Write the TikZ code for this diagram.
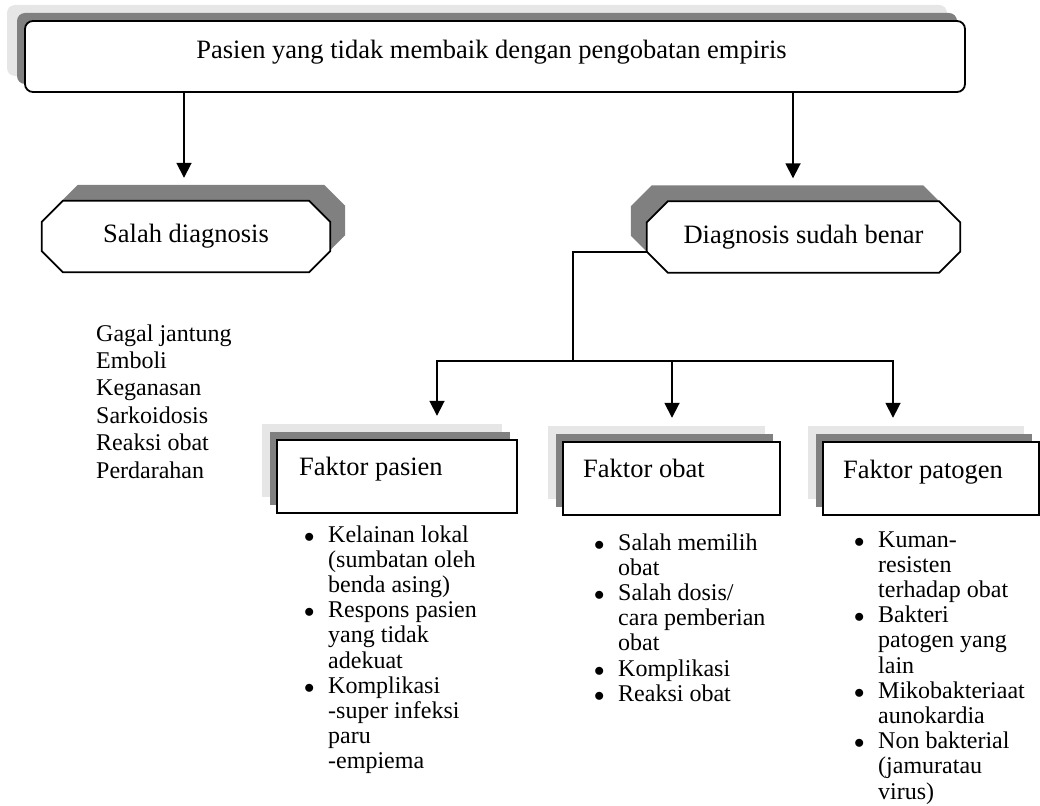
\documentclass[tikz,border=0pt]{standalone}
\usepackage{fontspec}
\setmainfont{Liberation Serif}
\usetikzlibrary{arrows.meta}
\definecolor{dgray}{HTML}{808080}
\definecolor{lgray}{HTML}{E6E6E6}
\newcommand\octo[2]{([xshift=#2]#1.north west) -- ([xshift=-#2]#1.north east) -- ([yshift=-#2]#1.north east) -- ([yshift=#2]#1.south east) -- ([xshift=-#2]#1.south east) -- ([xshift=#2]#1.south west) -- ([yshift=#2]#1.south west) -- ([yshift=-#2]#1.north west) -- cycle}
\newcommand\bul{\makebox[24pt][l]{\fontsize{20}{25.2}\selectfont$\bullet$}}
\tikzset{
  lbl/.style={font=\fontsize{26.5}{30}\selectfont, inner sep=0pt},
  lst/.style={font=\fontsize{24}{25.2}\selectfont, inner sep=0pt, anchor=base west},
  arr/.style={line width=1.8pt, line cap=rect, -{Triangle[length=15pt,width=15pt]}},
  ln/.style={line width=1.8pt, line cap=rect},
  bx/.style={draw=black, fill=white, line width=1.8pt, inner sep=0pt},
  sh/.style={inner sep=0pt},
  fbox/.style={minimum width=#1, minimum height=73pt},
  topbox/.style={rounded corners=8pt, minimum width=940pt, minimum height=71pt},
  octbox/.style={inner sep=0pt, minimum width=#1, minimum height=71pt},
}
\begin{document}
\begin{tikzpicture}[x=1pt,y=-1pt]
\useasboundingbox (0,0) rectangle (1040,805);
% top box
\node[sh, fill=lgray, topbox] (toplt) at (477,40.5) {};
\node[sh, fill=dgray, topbox] (topdk) at (487,48.5) {};
\node[bx, topbox] (top) at (495,56.5) {};
\node[lbl, anchor=base] (topt) at (491.5,59) {Pasien yang tidak membaik dengan pengobatan empiris};
% octagons
\node[octbox=288pt] (sdsh) at (201,220.5) {};
\node[octbox=288pt] (sd) at (186,236.5) {};
\fill[dgray] \octo{sdsh}{21pt};
\filldraw[fill=white, line width=1.8pt] \octo{sd}{21pt};
\node[lbl] (sdt) at (sd) {Salah diagnosis};
\node[octbox=313pt] (dbsh) at (787.5,221) {};
\node[octbox=313pt] (db) at (803.5,237) {};
\fill[dgray] \octo{dbsh}{21pt};
\filldraw[fill=white, line width=1.8pt] \octo{db}{21pt};
\node[lbl] (dbt) at (db) {Diagnosis sudah benar};
% factor boxes
\node[sh, fill=lgray, fbox=240pt] (fpl) at (382,460.5) {};
\node[sh, fill=dgray, fbox=240pt] (fpd) at (390,468.5) {};
\node[bx, fbox=240pt] (fp) at (397,476.5) {};
\node[lbl, anchor=base west] (fpt) at (299,475) {Faktor pasien};
\node[sh, fill=lgray, fbox=217pt] (fol) at (656.5,462.5) {};
\node[sh, fill=dgray, fbox=217pt] (fod) at (664.5,470.5) {};
\node[bx, fbox=217pt] (fo) at (671.5,478.5) {};
\node[lbl, anchor=base west] (fot) at (583,477) {Faktor obat};
\node[sh, fill=lgray, fbox=216pt] (fgl) at (916,462.5) {};
\node[sh, fill=dgray, fbox=216pt] (fgd) at (924,470.5) {};
\node[bx, fbox=216pt] (fg) at (931,478.5) {};
\node[lbl, anchor=base west] (fgt) at (843,478) {Faktor patogen};
% lists
\node[lst, font=\fontsize{24}{27.4}\selectfont] (lsd) at (96,341) {\begin{tabular}[t]{@{}l@{}}Gagal jantung\\Emboli\\Keganasan\\Sarkoidosis\\Reaksi obat\\Perdarahan\end{tabular}};
\node[lst] (lfp) at (304,542) {\begin{tabular}[t]{@{}l@{}l@{}}\bul & Kelainan lokal\\ & (sumbatan oleh\\ & benda asing)\\\bul & Respons pasien\\ & yang tidak\\ & adekuat\\\bul & Komplikasi\\ & -super infeksi\\ & paru\\ & -empiema\end{tabular}};
\node[lst] (lfo) at (594,550) {\begin{tabular}[t]{@{}l@{}l@{}}\bul & Salah memilih\\ & obat\\\bul & Salah dosis/\\ & cara pemberian\\ & obat\\\bul & Komplikasi\\\bul & Reaksi obat\end{tabular}};
\node[lst] (lfg) at (854,547) {\begin{tabular}[t]{@{}l@{}l@{}}\bul & Kuman-\\ & resisten\\ & terhadap obat\\\bul & Bakteri\\ & patogen yang\\ & lain\\\bul & Mikobakteriaat\\ & aunokardia\\\bul & Non bakterial\\ & (jamuratau\\ & virus)\end{tabular}};
% connectors
\coordinate (jc) at (573,361);
\coordinate (j1) at (437,361);
\coordinate (j2) at (672,361);
\coordinate (j3) at (893,361);
\draw[arr, shorten >=23pt] ([xshift=-2pt]sd.north |- top.south) -- ([xshift=-2pt]sd.north);
\draw[arr, shorten >=23pt] ([xshift=-10.5pt]db.north |- top.south) -- ([xshift=-10.5pt]db.north);
\draw[ln] ([yshift=21pt]db.south west) -| (jc);
\draw[ln] (j1) -- (j3);
\draw[arr, shorten >=8pt] (j1) -- (fpl.north -| j1);
\draw[arr, shorten >=8pt] (j2) -- (fol.north -| j2);
\draw[arr, shorten >=8pt] (j3) -- (fgl.north -| j3);
\end{tikzpicture}
\end{document}
